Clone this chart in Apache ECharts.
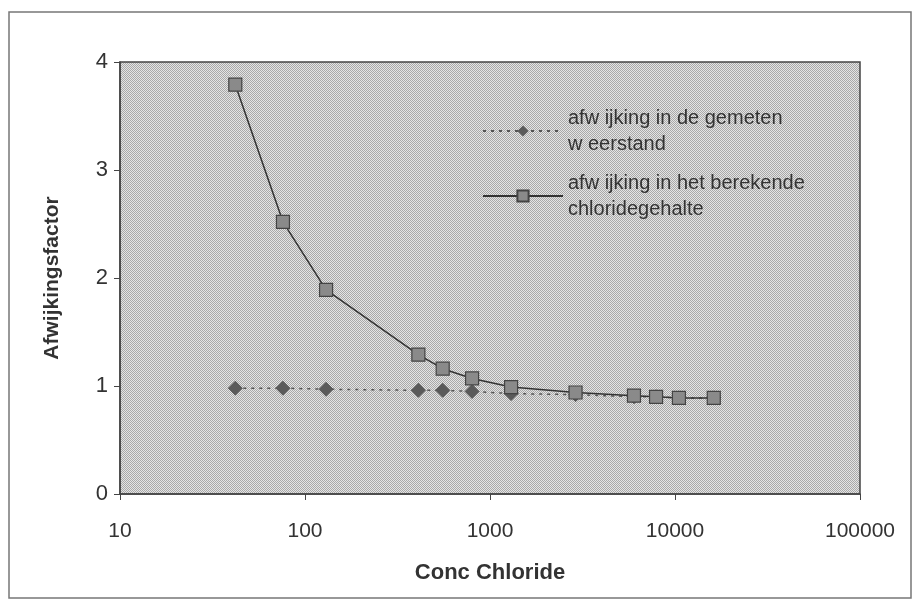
<!DOCTYPE html>
<html><head><meta charset="utf-8">
<script src="https://cdn.jsdelivr.net/npm/echarts@6/dist/echarts.min.js"></script>
<style>html,body{margin:0;padding:0;background:#fff}#c{width:918px;height:606px}</style>
</head><body><div id="c"></div>
<script>
const concChloride = [42, 76, 130, 410, 555, 800, 1300, 2900, 6000, 7900, 10500, 16200];
const afwWeerstand = [0.98, 0.98, 0.97, 0.96, 0.96, 0.95, 0.93, 0.92, 0.90, 0.90, 0.89, 0.89];
const afwChloride = [3.79, 2.52, 1.89, 1.29, 1.16, 1.07, 0.99, 0.94, 0.91, 0.90, 0.89, 0.89];
const seriesNames = ['afw ijking in de gemeten\nw eerstand', 'afw ijking in het berekende\nchloridegehalte'];

function pairs(xs, ys){ return xs.map((x,i)=>[x, ys[i]]); }

// stipple pattern for plot background
const pc = document.createElement('canvas'); pc.width = 4; pc.height = 4;
const pctx = pc.getContext('2d');
pctx.fillStyle = '#e4e4e4'; pctx.fillRect(0,0,4,4);
pctx.fillStyle = '#a8a8a8';
pctx.fillRect(0,0,1,1); pctx.fillRect(2,0,1,1); pctx.fillRect(1,1,1,1); pctx.fillRect(3,1,1,1);
pctx.fillRect(0,2,1,1); pctx.fillRect(2,2,1,1); pctx.fillRect(1,3,1,1); pctx.fillRect(3,3,1,1);

const chart = echarts.init(document.getElementById('c'));
const font = 'Liberation Sans, Arial, sans-serif';
chart.setOption({
  backgroundColor: '#fff',
  animation: false,
  graphic: [{
    type: 'rect', shape: {x: 9, y: 12, width: 902, height: 586},
    style: {fill: 'none', stroke: '#777', lineWidth: 1.5}, silent: true
  }],
  grid: {left: 120, right: 58, top: 62, bottom: 112, show: true,
    backgroundColor: {image: pc, repeat: 'repeat'}, borderColor: '#444', borderWidth: 1.5},
  legend: {
    orient: 'vertical', left: 477, top: 100, itemGap: 13,
    itemWidth: 80, itemHeight: 14,
    textStyle: {fontFamily: font, fontSize: 20, color: '#333', lineHeight: 26},
    data: seriesNames
  },
  xAxis: {
    type: 'log', logBase: 10, min: 10, max: 100000,
    name: 'Conc Chloride', nameLocation: 'middle', nameGap: 68,
    nameTextStyle: {fontFamily: font, fontSize: 22, fontWeight: 'bold', color: '#333'},
    axisLine: {show: true, lineStyle: {color: '#444', width: 1.5}},
    axisTick: {show: true, inside: false, length: 6, lineStyle: {color: '#444'}},
    minorTick: {show: false},
    splitLine: {show: false},
    axisLabel: {fontFamily: font, fontSize: 21, color: '#333', margin: 27,
      formatter: v => String(Math.round(v))}
  },
  yAxis: {
    type: 'value', min: 0, max: 4, interval: 1,
    name: 'Afwijkingsfactor', nameLocation: 'middle', nameGap: 57, nameRotate: 90,
    nameTextStyle: {fontFamily: font, fontSize: 21, fontWeight: 'bold', color: '#333'},
    axisLine: {show: true, lineStyle: {color: '#444', width: 1.5}},
    axisTick: {show: true, inside: false, length: 6, lineStyle: {color: '#444'}},
    splitLine: {show: false},
    axisLabel: {fontFamily: font, fontSize: 22, color: '#333', margin: 12}
  },
  series: [
    {
      name: seriesNames[0], type: 'line', data: pairs(concChloride, afwWeerstand),
      symbol: 'diamond', symbolSize: 14,
      itemStyle: {color: '#5a5a5a', borderColor: '#5a5a5a'},
      lineStyle: {color: '#555', width: 1.5, type: [3, 5]}, z: 2
    },
    {
      name: seriesNames[1], type: 'line', data: pairs(concChloride, afwChloride),
      symbol: 'rect', symbolSize: 13,
      itemStyle: {color: '#8a8a8a', borderColor: '#444', borderWidth: 1.2},
      lineStyle: {color: '#333', width: 1.5}, z: 3
    }
  ]
});
</script></body></html>
